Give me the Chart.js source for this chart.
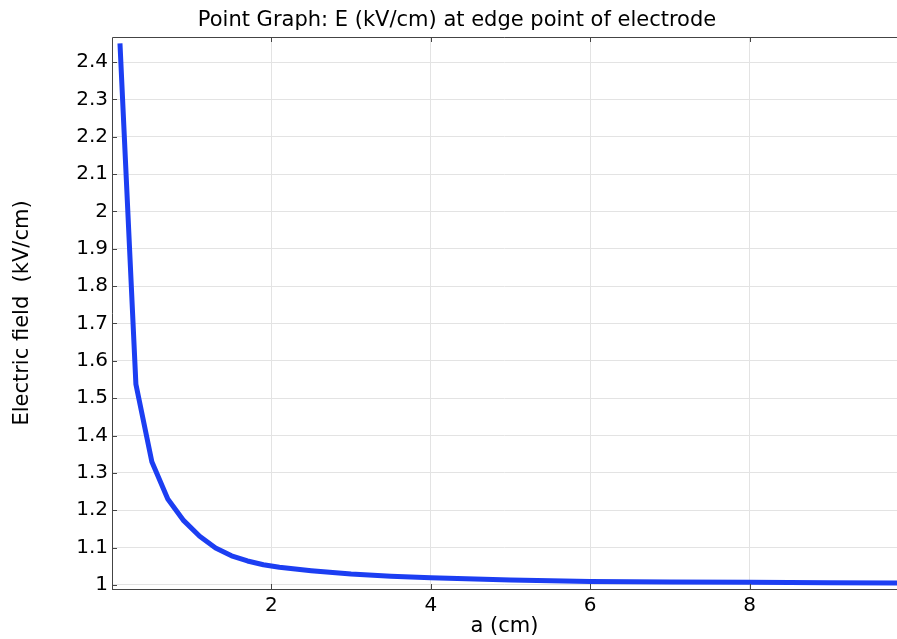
<!DOCTYPE html>
<html>
<head>
<meta charset="utf-8">
<script src="https://cdn.jsdelivr.net/npm/chart.js@4/dist/chart.umd.min.js"></script>
<style>
  html, body { margin: 0; padding: 0; background: #fff; }
  #wrap { width: 897px; height: 639px; }
</style>
</head>
<body>
<div id="wrap"><canvas id="chart" width="897" height="639"></canvas></div>
<script>
// electrode spacing a (cm) and field at the edge point (kV/cm)
const aValues = [0.1, 0.3, 0.5, 0.7, 0.9, 1.1, 1.3, 1.5, 1.7, 1.9, 2.1, 2.5, 3, 3.5, 4, 5, 6, 7, 8, 9, 10];
const fieldValues = [2.45, 1.537, 1.33, 1.23, 1.172, 1.13, 1.099, 1.078, 1.064, 1.054, 1.047, 1.038, 1.029, 1.023, 1.019, 1.013, 1.009, 1.008, 1.007, 1.006, 1.005];

const xTicks = [2, 4, 6, 8];
const yTicks = [1, 1.1, 1.2, 1.3, 1.4, 1.5, 1.6, 1.7, 1.8, 1.9, 2, 2.1, 2.2, 2.3, 2.4];

const titleText = "Point Graph: E (kV/cm) at edge point of electrode";
const fontFamily = "'DejaVu Sans', sans-serif";
const lineColor = "#1c3ef2";

const points = aValues.map((a, i) => ({ x: a, y: fieldValues[i] }));

// frame, inward ticks and the title
const framePlugin = {
  id: "frame",
  afterDraw(chart) {
    const { ctx, chartArea: area, scales } = chart;
    ctx.save();
    ctx.strokeStyle = "#444";
    ctx.lineWidth = 1;
    ctx.beginPath();
    ctx.moveTo(area.left + 0.5, area.bottom);
    ctx.lineTo(area.left + 0.5, area.top + 0.5);
    ctx.lineTo(area.right, area.top + 0.5);
    ctx.stroke();

    ctx.beginPath();
    xTicks.forEach((v) => {
      const px = Math.round(scales.x.getPixelForValue(v)) + 0.5;
      ctx.moveTo(px, area.bottom);
      ctx.lineTo(px, area.bottom - 5);
      ctx.moveTo(px, area.top);
      ctx.lineTo(px, area.top + 5);
    });
    yTicks.forEach((v) => {
      const py = Math.round(scales.y.getPixelForValue(v)) + 0.5;
      ctx.moveTo(area.left, py);
      ctx.lineTo(area.left + 5, py);
    });
    ctx.stroke();

    ctx.fillStyle = "#000";
    ctx.font = "21px " + fontFamily;
    ctx.textAlign = "center";
    ctx.textBaseline = "middle";
    ctx.fillText(titleText, 457, 21);
    ctx.restore();
  },
};

new Chart(document.getElementById("chart"), {
  type: "line",
  data: {
    datasets: [
      {
        data: points,
        borderColor: lineColor,
        borderWidth: 5,
        pointRadius: 0,
        tension: 0,
        fill: false,
        borderJoinStyle: "round",
      },
    ],
  },
  options: {
    responsive: false,
    animation: false,
    layout: { padding: { top: 37, right: 0, left: 0, bottom: 0 } },
    plugins: {
      legend: { display: false },
      tooltip: { enabled: false },
      title: { display: false },
    },
    scales: {
      x: {
        type: "linear",
        min: 0,
        max: 9.85,
        afterFit: (s) => { s.height = 50; },
        afterBuildTicks: (s) => { s.ticks = xTicks.map((v) => ({ value: v })); },
        grid: { color: "#e3e3e3", drawTicks: false },
        border: { display: true, color: "#444" },
        ticks: {
          color: "#000",
          padding: 5,
          maxRotation: 0,
          font: { family: fontFamily, size: 20 },
        },
        title: {
          display: true,
          text: "a (cm)",
          color: "#000",
          padding: { top: 0, bottom: 0 },
          font: { family: fontFamily, size: 21 },
        },
      },
      y: {
        type: "linear",
        min: 0.989,
        max: 2.467,
        afterFit: (s) => { s.width = 112; },
        afterBuildTicks: (s) => { s.ticks = yTicks.map((v) => ({ value: v })); },
        grid: { color: "#e3e3e3", drawTicks: false },
        border: { display: false },
        ticks: {
          color: "#000",
          padding: 4,
          font: { family: fontFamily, size: 20 },
          callback: (v) => String(Math.round(v * 10) / 10),
        },
        title: {
          display: true,
          text: "Electric field  (kV/cm)",
          color: "#000",
          padding: { top: 10, bottom: 0 },
          font: { family: fontFamily, size: 21 },
        },
      },
    },
  },
  plugins: [framePlugin],
});
</script>
</body>
</html>
